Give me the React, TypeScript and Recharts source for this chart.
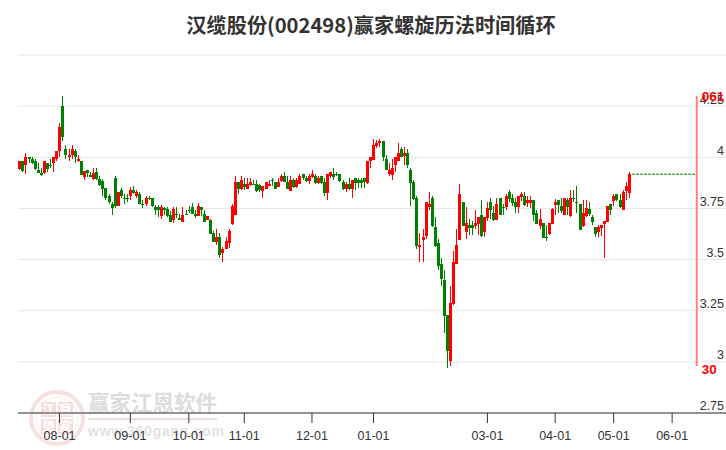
import React from 'react';
import { ComposedChart, Bar, XAxis, YAxis, CartesianGrid, ReferenceLine, ReferenceDot } from 'recharts';

const opens = [
  3.945, 3.98, 3.96, 4.00, 3.99, 3.98, 3.94, 3.925, 3.925, 3.97,
  3.96, 3.97, 3.99, 4.03, 4.25, 4.04, 4.00, 4.01, 4.03, 3.98,
  3.98, 3.905, 3.94, 3.915, 3.895, 3.93, 3.895, 3.885, 3.85, 3.81,
  3.77, 3.90, 3.76, 3.84, 3.80, 3.80, 3.81, 3.84, 3.81, 3.82,
  3.77, 3.77, 3.80, 3.80, 3.755, 3.755, 3.715, 3.75, 3.745, 3.72,
  3.695, 3.725, 3.705, 3.685, 3.725, 3.74, 3.755, 3.725, 3.715, 3.755,
  3.725, 3.695, 3.695, 3.63, 3.585, 3.61, 3.53, 3.55, 3.58, 3.675,
  3.72, 3.88, 3.845, 3.87, 3.845, 3.865, 3.87, 3.87, 3.865, 3.835,
  3.845, 3.86, 3.89, 3.88, 3.855, 3.885, 3.91, 3.88, 3.835, 3.89,
  3.855, 3.87, 3.92, 3.90, 3.885, 3.905, 3.91, 3.875, 3.91, 3.88,
  3.825, 3.91, 3.92, 3.92, 3.92, 3.88, 3.845, 3.87, 3.845, 3.90,
  3.89, 3.89, 3.90, 3.875, 3.98, 3.985, 4.055, 4.07, 4.08, 3.99,
  3.92, 3.915, 3.96, 3.98, 4.04, 4.005, 4.02, 3.94, 3.88, 3.80,
  3.56, 3.595, 3.615, 3.755, 3.80, 3.66, 3.58, 3.48, 3.40, 3.23,
  3.005, 3.285, 3.48, 3.595, 3.78, 3.635, 3.67, 3.67, 3.665, 3.675,
  3.72, 3.635, 3.705, 3.78, 3.73, 3.695, 3.80, 3.755, 3.755, 3.83,
  3.80, 3.78, 3.755, 3.805, 3.81, 3.775, 3.775, 3.79, 3.73, 3.665,
  3.68, 3.61, 3.625, 3.675, 3.765, 3.79, 3.76, 3.72, 3.79, 3.715,
  3.80, 3.78, 3.77, 3.665, 3.715, 3.745, 3.71, 3.66, 3.635, 3.655,
  3.675, 3.685, 3.77, 3.785, 3.82, 3.79, 3.74, 3.835, 3.825,
];
const closes = [
  3.98, 3.935, 4.00, 3.99, 3.97, 3.945, 3.925, 3.915, 3.98, 3.945,
  3.957, 4.00, 4.03, 4.15, 4.10, 4.01, 4.01, 4.04, 4.00, 3.99,
  3.915, 3.935, 3.925, 3.905, 3.925, 3.895, 3.865, 3.845, 3.80, 3.78,
  3.75, 3.76, 3.83, 3.81, 3.797, 3.797, 3.84, 3.825, 3.83, 3.77,
  3.767, 3.80, 3.795, 3.76, 3.74, 3.74, 3.755, 3.74, 3.715, 3.685,
  3.745, 3.72, 3.695, 3.72, 3.722, 3.735, 3.725, 3.715, 3.76, 3.74,
  3.685, 3.715, 3.625, 3.585, 3.61, 3.52, 3.55, 3.59, 3.64, 3.76,
  3.88, 3.845, 3.89, 3.855, 3.87, 3.88, 3.865, 3.835, 3.84, 3.86,
  3.88, 3.87, 3.885, 3.845, 3.88, 3.91, 3.88, 3.845, 3.89, 3.855,
  3.89, 3.91, 3.90, 3.885, 3.91, 3.92, 3.875, 3.90, 3.875, 3.825,
  3.92, 3.93, 3.905, 3.915, 3.885, 3.845, 3.87, 3.845, 3.89, 3.875,
  3.875, 3.875, 3.88, 3.98, 4.00, 4.06, 4.07, 4.08, 4.00, 3.94,
  3.94, 3.95, 4.00, 4.02, 4.00, 4.02, 3.96, 3.875, 3.795, 3.565,
  3.57, 3.61, 3.78, 3.77, 3.665, 3.565, 3.47, 3.405, 3.225, 3.055,
  3.29, 3.49, 3.57, 3.82, 3.665, 3.68, 3.655, 3.655, 3.68, 3.71,
  3.615, 3.71, 3.75, 3.74, 3.695, 3.77, 3.72, 3.75, 3.81, 3.795,
  3.775, 3.755, 3.81, 3.82, 3.765, 3.79, 3.79, 3.72, 3.675, 3.70,
  3.605, 3.605, 3.68, 3.745, 3.78, 3.765, 3.735, 3.80, 3.755, 3.80,
  3.797, 3.775, 3.645, 3.73, 3.75, 3.725, 3.685, 3.625, 3.66, 3.67,
  3.69, 3.76, 3.74, 3.81, 3.79, 3.755, 3.83, 3.86, 3.92,
];
const highs = [
  3.98, 3.98, 4.02, 4.00, 4.00, 3.99, 3.97, 3.95, 3.98, 3.97,
  3.99, 4.00, 4.03, 4.17, 4.30, 4.06, 4.04, 4.06, 4.04, 4.01,
  3.98, 3.935, 3.94, 3.93, 3.95, 3.95, 3.91, 3.895, 3.85, 3.82,
  3.78, 3.91, 3.83, 3.85, 3.82, 3.82, 3.855, 3.86, 3.84, 3.83,
  3.79, 3.81, 3.81, 3.80, 3.765, 3.765, 3.765, 3.755, 3.755, 3.735,
  3.755, 3.755, 3.725, 3.755, 3.74, 3.76, 3.775, 3.74, 3.775, 3.755,
  3.74, 3.715, 3.70, 3.64, 3.65, 3.63, 3.56, 3.61, 3.65, 3.77,
  3.91, 3.88, 3.91, 3.90, 3.90, 3.90, 3.89, 3.89, 3.87, 3.86,
  3.88, 3.89, 3.90, 3.88, 3.90, 3.92, 3.93, 3.91, 3.91, 3.90,
  3.90, 3.92, 3.92, 3.91, 3.92, 3.94, 3.92, 3.91, 3.91, 3.90,
  3.92, 3.93, 3.95, 3.93, 3.92, 3.89, 3.88, 3.90, 3.89, 3.90,
  3.90, 3.90, 3.90, 3.98, 4.00, 4.09, 4.085, 4.09, 4.08, 4.01,
  3.97, 3.99, 4.00, 4.07, 4.05, 4.05, 4.04, 3.95, 3.89, 3.81,
  3.63, 3.65, 3.78, 3.83, 3.81, 3.71, 3.60, 3.51, 3.45, 3.23,
  3.37, 3.54, 3.65, 3.87, 3.78, 3.755, 3.70, 3.69, 3.74, 3.71,
  3.79, 3.71, 3.78, 3.80, 3.76, 3.80, 3.80, 3.77, 3.82, 3.84,
  3.82, 3.80, 3.81, 3.83, 3.83, 3.81, 3.81, 3.79, 3.74, 3.745,
  3.68, 3.67, 3.68, 3.75, 3.795, 3.79, 3.80, 3.80, 3.80, 3.84,
  3.84, 3.86, 3.77, 3.79, 3.79, 3.78, 3.72, 3.66, 3.67, 3.67,
  3.69, 3.76, 3.77, 3.82, 3.82, 3.82, 3.84, 3.88, 3.93,
];
const lows = [
  3.94, 3.93, 3.92, 3.97, 3.965, 3.94, 3.925, 3.91, 3.92, 3.93,
  3.95, 3.93, 3.98, 4.00, 4.08, 3.99, 3.98, 3.99, 3.97, 3.975,
  3.915, 3.89, 3.905, 3.905, 3.89, 3.89, 3.86, 3.81, 3.79, 3.77,
  3.72, 3.75, 3.76, 3.80, 3.77, 3.78, 3.79, 3.82, 3.80, 3.77,
  3.75, 3.76, 3.79, 3.755, 3.72, 3.71, 3.70, 3.72, 3.71, 3.685,
  3.68, 3.705, 3.695, 3.685, 3.72, 3.73, 3.725, 3.705, 3.715, 3.715,
  3.685, 3.695, 3.625, 3.585, 3.57, 3.51, 3.49, 3.55, 3.555, 3.67,
  3.72, 3.82, 3.84, 3.84, 3.845, 3.86, 3.865, 3.83, 3.83, 3.80,
  3.845, 3.87, 3.86, 3.845, 3.855, 3.88, 3.88, 3.845, 3.835, 3.85,
  3.85, 3.87, 3.89, 3.88, 3.87, 3.90, 3.87, 3.87, 3.87, 3.81,
  3.79, 3.90, 3.89, 3.91, 3.88, 3.84, 3.83, 3.84, 3.80, 3.84,
  3.85, 3.85, 3.85, 3.87, 3.95, 3.985, 4.045, 4.05, 3.98, 3.94,
  3.91, 3.89, 3.93, 3.98, 4.00, 3.96, 3.95, 3.76, 3.79, 3.55,
  3.49, 3.49, 3.60, 3.74, 3.66, 3.56, 3.45, 3.37, 3.14, 2.97,
  2.98, 3.28, 3.48, 3.595, 3.665, 3.60, 3.62, 3.62, 3.65, 3.62,
  3.61, 3.61, 3.69, 3.70, 3.69, 3.695, 3.72, 3.72, 3.74, 3.78,
  3.76, 3.73, 3.73, 3.785, 3.76, 3.755, 3.75, 3.69, 3.675, 3.65,
  3.605, 3.59, 3.62, 3.675, 3.72, 3.73, 3.73, 3.72, 3.72, 3.71,
  3.78, 3.73, 3.645, 3.66, 3.71, 3.715, 3.67, 3.61, 3.61, 3.615,
  3.51, 3.685, 3.72, 3.76, 3.785, 3.75, 3.74, 3.79, 3.80,
];

const monthTicks = [13, 36, 55, 73, 95, 115, 152, 174, 193, 212];
const monthLabels = ['08-01', '09-01', '10-01', '11-01', '12-01', '01-01', '03-01', '04-01', '05-01', '06-01'];
const priceTicks = [2.75, 3, 3.25, 3.5, 3.75, 4, 4.25];

const SLOT_COUNT = 230;
const lastPrice = 3.917;
const cycleSlot = 220;

const chartData = Array.from({ length: SLOT_COUNT }, (_, i) =>
  i < opens.length
    ? { idx: i, open: opens[i], close: closes[i], high: highs[i], low: lows[i], range: [lows[i], highs[i]] }
    : { idx: i }
);

const Candle = (props: any) => {
  const { x, y, height, payload } = props;
  if (payload.high === undefined || !height) return null;
  const k = height / (payload.high - payload.low);
  const top = y + (payload.high - Math.max(payload.open, payload.close)) * k;
  const bodyHeight = Math.max(Math.abs(payload.open - payload.close) * k, 1);
  const color = payload.close >= payload.open ? '#ff0000' : '#008000';
  const left = Math.round(x + 0.3);
  return (
    <g shapeRendering="crispEdges">
      <rect x={left + 1} y={y} width={1} height={height} fill={color} />
      <rect x={left} y={top} width={3} height={bodyHeight} fill={color} />
    </g>
  );
};

const Watermark = () => (
  <svg width={726} height={450} style={{ position: 'absolute', left: 0, top: 0 }}>
    <circle cx={57} cy={418} r={26} fill="none" stroke="#f6e0e0" strokeWidth={4} />
    <circle cx={57} cy={418} r={21} fill="none" stroke="#fbeeee" strokeWidth={1} />
    <rect x={41} y={402} width={15} height={15} fill="#f5dcdc" />
    <rect x={58} y={402} width={15} height={15} fill="#f5dcdc" />
    <rect x={41} y={419} width={15} height={15} fill="#f5dcdc" />
    <rect x={58} y={419} width={15} height={15} fill="#f5dcdc" />
    <g fontFamily="Noto Sans CJK SC" fontSize={13} fill="#ffffff" textAnchor="middle" fontWeight="bold">
      <text x={48.5} y={414}>江</text>
      <text x={65.5} y={414}>赢</text>
      <text x={48.5} y={431}>恩</text>
      <text x={65.5} y={431}>家</text>
    </g>
    <text x={88} y={411} fontFamily="Noto Sans CJK SC" fontSize={21.5} fontWeight="bold" fill="#dcdcdc">赢家江恩软件</text>
    <rect x={88} y={418} width={129} height={2} fill="#eedcdc" />
    <text x={88} y={436} fontFamily="Liberation Sans" fontSize={14} fontWeight="bold" letterSpacing={0.75} fill="#e2e2e2">www.360gann.com</text>
  </svg>
);

export default function App() {
  return (
    <div style={{ position: 'absolute', left: 0, top: 0, width: 726, height: 450, overflow: 'hidden', background: '#fff' }}>
      <Watermark />
      <div
        style={{
          position: 'absolute',
          left: 0,
          width: 742,
          top: 11,
          textAlign: 'center',
          font: 'bold 20.2px "Noto Sans CJK SC"',
          lineHeight: '28px',
          color: '#333',
        }}
      >
        汉缆股份(002498)赢家螺旋历法时间循环
      </div>
      <div style={{ position: 'absolute', left: 0, top: 0 }}>
        <ComposedChart
          width={726}
          height={450}
          data={chartData}
          margin={{ top: 55, right: 0, bottom: 0, left: 18 }}
          barCategoryGap={0}
        >
          <CartesianGrid vertical={false} stroke="#e6e6e6" />
          <XAxis
            dataKey="idx"
            ticks={monthTicks}
            interval={0}
            height={37}
            tickSize={10}
            tickMargin={8}
            stroke="#333"
            tick={{ fill: '#333', fontSize: 12.5, fontFamily: 'Liberation Sans' }}
            tickFormatter={(v: number) => monthLabels[monthTicks.indexOf(v)]}
          />
          <YAxis
            orientation="right"
            mirror
            width={40}
            domain={[2.75, 4.5]}
            ticks={priceTicks}
            interval={0}
            axisLine={false}
            tickLine={false}
            tickSize={0}
            tickMargin={2}
            tick={{ fill: '#333', fontSize: 12.5, fontFamily: 'Liberation Sans', dy: -7 }}
          />
          <Bar dataKey="range" barSize={3} shape={Candle} isAnimationActive={false} />
          <ReferenceLine
            segment={[{ x: opens.length, y: lastPrice }, { x: cycleSlot, y: lastPrice }]}
            stroke="#008000"
            strokeDasharray="3 1"
          />
          <ReferenceLine
            segment={[{ x: cycleSlot, y: 4.3 }, { x: cycleSlot, y: 2.98 }]}
            stroke="#ff8080"
            strokeWidth={2}
          />
          <ReferenceDot
            x={cycleSlot}
            y={4.3}
            r={0}
            label={{ value: '061', position: 'right', fill: '#ff0000', fontSize: 13.5, fontWeight: 'bold', fontFamily: 'Liberation Sans' }}
          />
          <ReferenceDot
            x={cycleSlot}
            y={2.965}
            r={0}
            label={{ value: '30', position: 'right', fill: '#ff0000', fontSize: 13.5, fontWeight: 'bold', fontFamily: 'Liberation Sans' }}
          />
        </ComposedChart>
      </div>
    </div>
  );
}
